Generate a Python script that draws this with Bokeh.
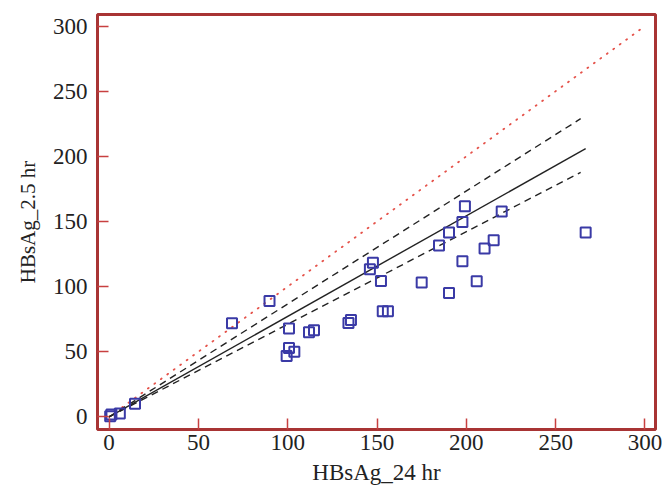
from bokeh.plotting import figure
from bokeh.embed import file_html
from bokeh.resources import INLINE
from bokeh.models import Range1d, FixedTicker

# Data
hbsag_24 = [0.6, 1.3, 6.0, 14.5, 68.8, 89.8, 100.7, 100.7, 99.4, 103.7, 111.9, 114.7,
            134.0, 135.4, 146.0, 147.7, 152.2, 153.2, 156.1, 175.0, 190.3, 184.7,
            190.3, 197.8, 199.2, 197.8, 205.8, 210.2, 215.3, 219.8, 266.8]
hbsag_25 = [0.5, 1.8, 2.6, 10.0, 71.9, 89.0, 67.8, 52.9, 46.8, 49.9, 65.0, 66.5,
            72.1, 74.4, 113.3, 118.4, 104.3, 81.1, 81.1, 103.1, 95.1, 131.5,
            141.5, 149.6, 161.6, 119.4, 104.1, 129.2, 135.6, 157.6, 141.5]

# Regression line (solid), 95% CI lines (dashed), identity line (dotted)
reg_x = [0, 266.8]
reg_y = [0, 205.9]
ci_hi_x = [0, 264]
ci_hi_y = [0, 228.9]
ci_lo_x = [0, 264]
ci_lo_y = [0, 187.7]
ident_x = [0, 300]
ident_y = [0, 300]

ticks = [0, 50, 100, 150, 200, 250, 300]

FONT = "Liberation Serif"
FRAME = "#A83434"
TICKC = "#C84040"

p = figure(width=665, height=488, output_backend="svg", toolbar_location=None,
           x_range=Range1d(-6.5, 305.9), y_range=Range1d(-9.7, 308.9),
           min_border_left=97, min_border_right=10, min_border_top=14, min_border_bottom=59)

p.grid.visible = False
p.background_fill_color = "white"
p.border_fill_color = "white"
p.outline_line_color = FRAME
p.outline_line_width = 3

for ax in (p.xaxis[0], p.yaxis[0]):
    ax.ticker = FixedTicker(ticks=ticks)
    ax.axis_line_color = None
    ax.major_tick_in = 11
    ax.major_tick_out = 0
    ax.major_tick_line_color = TICKC
    ax.major_tick_line_width = 1.5
    ax.minor_tick_line_color = None
    ax.major_label_text_font = FONT
    ax.major_label_text_font_size = "23px"
    ax.major_label_text_color = "#222222"
    ax.axis_label_text_font = FONT
    ax.axis_label_text_font_style = "normal"
    ax.axis_label_text_color = "#222222"

p.xaxis.axis_label = "HBsAg_24 hr"
p.yaxis.axis_label = "HBsAg_2.5 hr"
p.xaxis.axis_label_text_font_size = "23px"
p.yaxis.axis_label_text_font_size = "21px"
p.xaxis.major_label_standoff = 5
p.yaxis.major_label_standoff = 10
p.xaxis.axis_label_standoff = 7
p.yaxis.axis_label_standoff = 10

p.line(ident_x, ident_y, line_color="#E5524A", line_width=1.8, line_dash="1 7", line_cap="round")
p.line(ci_hi_x, ci_hi_y, line_color="#222222", line_width=1.4, line_dash="7 5")
p.line(ci_lo_x, ci_lo_y, line_color="#222222", line_width=1.4, line_dash="7 5")
p.line(reg_x, reg_y, line_color="#222222", line_width=1.4)

p.scatter(hbsag_24, hbsag_25, marker="square", size=10, fill_color=None,
          line_color="#3A3AA6", line_width=2)

open("out.html", "w").write(file_html(p, INLINE))
